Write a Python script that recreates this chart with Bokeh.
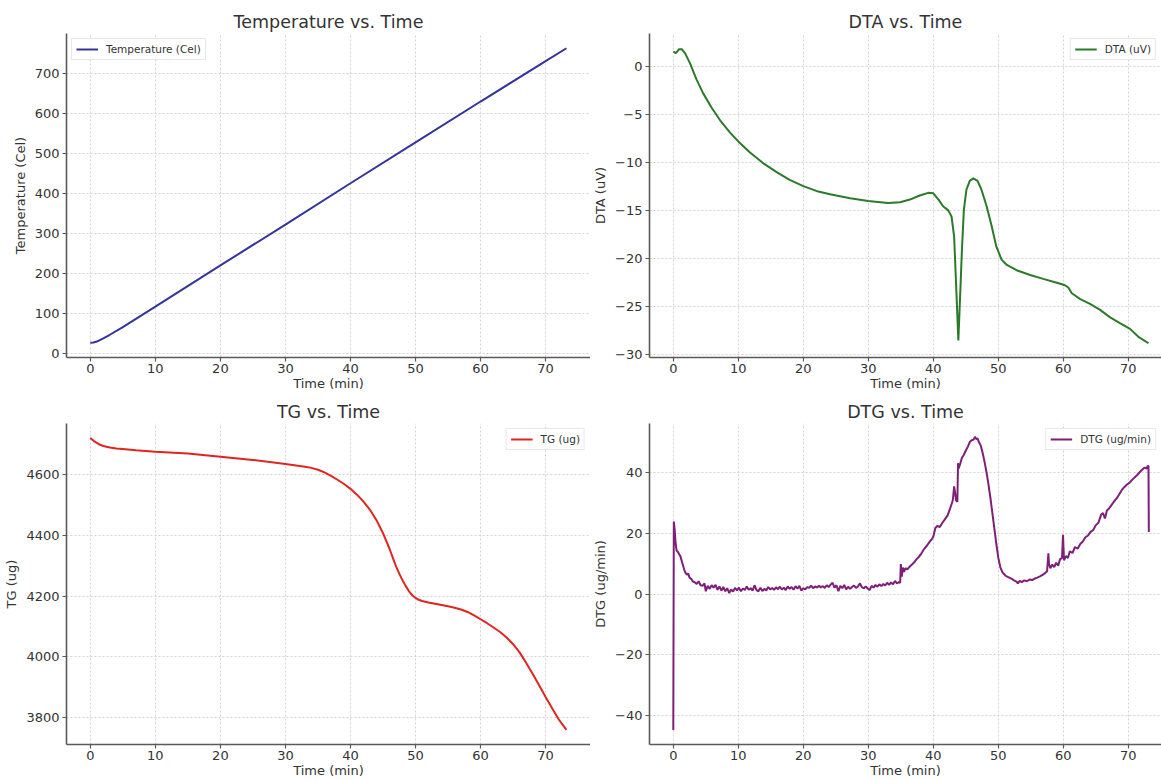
from bokeh.plotting import figure
from bokeh.layouts import column, row
from bokeh.models import FixedTicker, Range1d, CustomJSTickFormatter
from bokeh.embed import file_html
from bokeh.resources import INLINE

# ---------------- data ----------------
x_ticks = [0, 10, 20, 30, 40, 50, 60, 70]

temp_time = [0.0, 0.5, 1.0, 2.0, 3.0, 5.0, 10.0, 20.0, 30.0, 40.0, 50.0, 60.0, 70.0, 73.2]
temp_vals = [27, 27.5, 30, 38, 47, 66, 117, 220, 322, 425, 527, 629, 730, 762]
temp_ticks = [0, 100, 200, 300, 400, 500, 600, 700]

dta_pts = [
    (0.0, 1.56), (0.4, 1.39), (0.9, 1.8), (1.3, 1.8), (1.8, 1.39), (2.56, 0.35), (3.6, -1.39),
    (4.6, -2.8), (5.9, -4.3), (7.2, -5.6), (8.7, -6.85), (10.0, -7.8), (11.8, -8.95),
    (13.8, -10.05), (15.9, -11.0), (17.9, -11.8), (20.0, -12.45), (22.0, -12.95), (24.1, -13.3),
    (27.2, -13.7), (30.0, -14.0), (33.0, -14.2), (34.9, -14.13), (36.4, -13.85), (37.9, -13.43),
    (39.2, -13.15), (40.0, -13.2), (40.8, -13.85), (41.5, -14.55), (42.3, -14.97), (42.8, -15.6),
    (43.2, -17.7), (43.5, -22.6), (43.85, -28.5), (44.1, -24.3), (44.4, -19.1), (44.7, -14.9),
    (45.1, -12.8), (45.6, -11.9), (46.15, -11.64), (46.8, -11.9), (47.4, -12.8), (48.2, -14.55),
    (48.97, -16.6), (49.7, -18.75), (50.5, -20.1), (51.3, -20.65), (52.8, -21.2), (54.9, -21.7),
    (56.9, -22.1), (59.0, -22.5), (60.25, -22.76), (60.77, -23.0), (61.3, -23.6), (62.6, -24.2),
    (64.1, -24.7), (65.6, -25.3), (67.2, -26.1), (68.7, -26.7), (70.26, -27.3), (71.5, -28.1),
    (73.1, -28.8),
]
dta_ticks = [0, -5, -10, -15, -20, -25, -30]

tg_pts = [
    (0.0, 4720), (0.5, 4711), (1.0, 4704), (1.5, 4698), (2.0, 4694), (3.0, 4689), (4.0, 4686),
    (5.0, 4684), (7.0, 4680), (10.0, 4675), (15.0, 4669), (20.0, 4659), (25.0, 4648), (30.0, 4635),
    (33.0, 4626), (34.0, 4622), (35.0, 4616), (36.0, 4607), (37.0, 4596), (38.0, 4583),
    (39.0, 4569), (40.0, 4553), (41.0, 4534), (42.0, 4511), (43.0, 4484), (44.0, 4450),
    (45.0, 4407), (46.0, 4356), (46.5, 4327), (47.0, 4298), (47.5, 4274), (48.0, 4252),
    (48.5, 4233), (49.0, 4216), (49.5, 4203), (50.0, 4194), (50.5, 4188), (51.0, 4184),
    (52.0, 4179), (53.0, 4175), (55.0, 4167), (56.0, 4162), (57.0, 4156), (58.0, 4148),
    (59.0, 4137), (60.0, 4124), (61.0, 4111), (62.0, 4097), (63.0, 4082), (64.0, 4064),
    (65.0, 4042), (66.0, 4015), (67.0, 3981), (68.0, 3945), (69.0, 3907), (70.0, 3868),
    (71.0, 3831), (72.0, 3795), (73.2, 3760),
]
tg_ticks = [3800, 4000, 4200, 4400, 4600]

dtg_start = [
    (0.0, -44.7), (0.08, 24.0), (0.2, 21.5), (0.35, 17.0), (0.5, 14.5), (0.7, 14.0), (0.9, 13.2),
    (1.1, 12.5), (1.3, 11.0), (1.5, 9.5), (1.7, 8.0), (1.9, 7.0), (2.1, 6.5), (2.3, 6.8),
    (2.5, 5.5), (2.8, 5.0), (3.0, 4.2), (3.3, 4.0), (3.6, 3.4), (3.9, 4.3), (4.2, 3.0),
    (4.5, 2.8), (4.8, 3.6),
]
dtg_base = [
    (5.0, 1.0), (5.3, 2.8), (5.6, 1.8), (5.9, 3.0), (6.2, 2.2), (6.5, 3.1), (6.8, 1.5), (7.1, 2.6),
    (7.4, 1.2), (7.7, 2.4), (8.0, 1.0), (8.3, 2.0), (8.6, 0.4), (8.9, 1.6), (9.2, 0.9), (9.5, 2.1),
    (9.8, 1.3), (10.1, 2.2), (10.4, 1.0), (10.7, 1.9), (11.0, 1.4), (11.3, 2.6), (11.6, 1.5),
    (11.9, 2.0), (12.2, 1.2), (12.5, 3.0), (12.8, 1.4), (13.1, 1.0), (13.4, 2.2), (13.7, 1.1),
    (14.0, 1.8), (14.3, 1.3), (14.6, 2.4), (14.9, 1.6), (15.2, 2.1), (15.5, 1.5), (15.8, 2.3),
    (16.1, 1.7), (16.4, 2.5), (16.7, 1.6), (17.0, 2.2), (17.3, 1.4), (17.6, 2.6), (17.9, 1.8),
    (18.2, 2.4), (18.5, 1.5), (18.8, 2.7), (19.1, 1.9), (19.4, 2.8), (19.7, 1.2), (20.0, 2.0),
    (20.3, 1.6), (20.6, 2.4), (20.9, 2.1), (21.2, 2.9), (21.5, 2.0), (21.8, 2.6), (22.1, 2.2),
    (22.4, 2.8), (22.7, 2.3), (23.0, 2.7), (23.3, 2.1), (23.6, 3.0), (23.9, 2.4), (24.2, 3.2),
    (24.5, 3.8), (24.8, 2.2), (25.1, 3.0), (25.4, 1.0), (25.7, 2.8), (26.0, 2.0), (26.3, 3.1),
    (26.6, 1.6), (26.9, 2.5), (27.2, 1.8), (27.5, 2.4), (27.8, 2.9), (28.1, 2.1), (28.4, 2.6),
    (28.7, 3.6), (29.0, 2.4), (29.3, 2.0), (29.6, 2.6), (29.9, 1.9), (30.2, 1.4), (30.5, 2.8),
    (30.8, 2.2), (31.1, 3.1), (31.4, 2.5), (31.7, 3.3), (32.0, 2.7), (32.3, 3.4), (32.6, 2.9),
    (32.9, 3.8), (33.2, 3.1), (33.5, 3.9), (33.8, 3.3), (34.1, 4.4), (34.4, 3.6), (34.7, 4.0),
]
dtg_peak = [
    (34.9, 3.8), (35.0, 10.0), (35.15, 5.8), (35.3, 8.8), (35.5, 7.4), (35.7, 8.6), (36.0, 8.2),
    (36.3, 9.0), (36.6, 9.6), (37.0, 10.4), (37.4, 11.5), (37.8, 12.4), (38.2, 13.6), (38.6, 15.0),
    (39.0, 16.0), (39.4, 17.2), (39.8, 18.3), (40.0, 19.0), (40.3, 21.8), (40.6, 22.5), (41.0, 22.2),
    (41.4, 23.6), (41.8, 24.8), (42.2, 26.0), (42.6, 28.4), (43.0, 31.0), (43.2, 35.6), (43.35, 33.5),
    (43.5, 31.0), (43.7, 30.5), (43.8, 43.2), (43.9, 41.5), (44.1, 42.8), (44.4, 45.0), (44.7, 46.0),
    (45.0, 47.4), (45.3, 48.6), (45.6, 50.2), (45.9, 50.8), (46.2, 51.0), (46.4, 51.9), (46.6, 51.2),
    (46.8, 51.4), (47.0, 50.2), (47.3, 49.0), (47.6, 46.5), (47.9, 43.5), (48.2, 40.0), (48.5, 36.0),
    (48.8, 31.5), (49.1, 26.5), (49.4, 21.5), (49.7, 16.5), (50.0, 12.0), (50.3, 9.0), (50.6, 7.4),
    (50.9, 6.6), (51.2, 6.0), (51.6, 5.6), (52.0, 5.2), (52.4, 4.6), (52.8, 4.2), (53.0, 3.6),
    (53.3, 4.4), (53.6, 4.0), (54.0, 4.6), (54.4, 4.3), (54.8, 4.9), (55.2, 4.7), (55.6, 5.2),
    (56.0, 5.5), (56.4, 5.9), (56.8, 6.4), (57.2, 7.0), (57.5, 7.6),
]
dtg_end = [
    (57.7, 13.5), (57.8, 10.0), (58.0, 8.6), (58.3, 9.8), (58.6, 9.0), (58.9, 10.4), (59.2, 9.4),
    (59.5, 11.6), (59.8, 12.0), (59.95, 19.6), (60.1, 11.2), (60.4, 12.6), (60.7, 12.0), (61.0, 14.2),
    (61.4, 13.6), (61.8, 15.6), (62.2, 15.0), (62.6, 16.6), (63.0, 17.4), (63.4, 18.8), (63.8, 19.4),
    (64.2, 20.6), (64.6, 21.2), (65.0, 22.8), (65.4, 23.6), (65.8, 26.2), (66.1, 26.8), (66.4, 25.0),
    (66.7, 27.6), (67.0, 28.2), (67.4, 29.4), (67.8, 30.6), (68.2, 31.6), (68.6, 33.0), (69.0, 34.4),
    (69.4, 35.4), (69.8, 36.2), (70.2, 36.8), (70.6, 37.8), (71.0, 38.6), (71.4, 39.4), (71.8, 40.4),
    (72.2, 41.2), (72.5, 41.8), (72.8, 41.4), (73.0, 42.4), (73.1, 42.2), (73.15, 20.5),
]
dtg_ticks = [-40, -20, 0, 20, 40]

# ---------------- styling helpers ----------------
FONT = "DejaVu Sans"
TXT = "#333333"
AXC = "#5a5a5a"
GRID = "#d9cfcf"

minus_fmt = "return String(tick).replace('-', '\u2212');"


def make_fig(width, height, mbl, mbt, mbb, title, xr, yr, yticks, ylabel):
    p = figure(width=width, height=height, output_backend="svg", toolbar_location=None,
               x_range=Range1d(*xr), y_range=Range1d(*yr),
               min_border_left=mbl, min_border_right=0, min_border_top=mbt,
               min_border_bottom=mbb, title=title, background_fill_color="white",
               border_fill_color="white")
    p.outline_line_color = None
    p.title.align = "center"
    p.title.text_font = FONT
    p.title.text_font_size = "17.5px"
    p.title.text_font_style = "normal"
    p.title.text_color = TXT
    p.title.standoff = 3
    for ax, ticks in ((p.xaxis[0], x_ticks), (p.yaxis[0], yticks)):
        ax.ticker = FixedTicker(ticks=ticks)
        ax.formatter = CustomJSTickFormatter(code=minus_fmt)
        ax.major_label_text_font = FONT
        ax.major_label_text_font_size = "13px"
        ax.major_label_text_color = TXT
        ax.axis_label_text_font = FONT
        ax.axis_label_text_font_size = "13px"
        ax.axis_label_text_font_style = "normal"
        ax.axis_label_text_color = TXT
        ax.axis_line_color = AXC
        ax.axis_line_width = 1.6
        ax.major_tick_line_color = AXC
        ax.major_tick_line_width = 1.2
        ax.major_tick_out = 4
        ax.major_tick_in = 0
        ax.minor_tick_line_color = None
    p.xaxis.major_label_standoff = 2
    p.xaxis.axis_label_standoff = 0
    p.yaxis.major_label_standoff = 3
    p.xaxis.axis_label = "Time (min)"
    p.yaxis.axis_label = ylabel
    p.yaxis.axis_label_standoff = 4
    for g in (p.xgrid[0], p.ygrid[0]):
        g.grid_line_color = GRID
        g.grid_line_dash = "2 2"
        g.grid_line_width = 1
    p.xgrid[0].ticker = FixedTicker(ticks=x_ticks)
    p.ygrid[0].ticker = FixedTicker(ticks=yticks)
    return p


def style_legend(p, loc):
    lg = p.legend[0]
    lg.location = loc
    lg.label_text_font = FONT
    lg.label_text_font_size = "10.5px"
    lg.label_text_color = TXT
    lg.border_line_color = "#d0d0d0"
    lg.border_line_width = 1
    lg.background_fill_alpha = 0.85
    lg.margin = 5
    lg.padding = 4
    lg.spacing = 0
    lg.glyph_width = 22
    lg.glyph_height = 12
    lg.label_standoff = 8
    lg.label_height = 12


XL = (-3.66, 76.9)
XR = (-3.66, 75.1)

TOP_H = 394
BOT_H = 780 - TOP_H

p1 = make_fig(590, TOP_H, 66, 33, 37, "Temperature vs. Time", XL, (-9.75, 798.75), temp_ticks,
              "Temperature (Cel)")
p1.line(temp_time, temp_vals, line_color="#34349a", line_width=2, legend_label="Temperature (Cel)")
style_legend(p1, "top_left")

p2 = make_fig(571, TOP_H, 59, 33, 37, "DTA vs. Time", XR, (-30.28, 3.43), dta_ticks, "DTA (uV)")
p2.line([t for t, v in dta_pts], [v for t, v in dta_pts], line_color="#2a7a2a", line_width=2,
        legend_label="DTA (uV)")
style_legend(p2, "top_right")

p3 = make_fig(590, BOT_H, 66, 29, 35, "TG vs. Time", XL, (3712, 4768), tg_ticks, "TG (ug)")
p3.line([t for t, v in tg_pts], [v for t, v in tg_pts], line_color="#e0251f", line_width=2,
        legend_label="TG (ug)")
style_legend(p3, "top_right")

dtg_all = dtg_start + dtg_base + dtg_peak + dtg_end
p4 = make_fig(571, BOT_H, 59, 29, 35, "DTG vs. Time", XR, (-49.5, 56.3), dtg_ticks, "DTG (ug/min)")
p4.line([t for t, v in dtg_all], [v for t, v in dtg_all], line_color="#7e1f78", line_width=2,
        legend_label="DTG (ug/min)")
style_legend(p4, "top_right")

layout = column(row(p1, p2), row(p3, p4))
open("out.html", "w").write(file_html(layout, INLINE))
